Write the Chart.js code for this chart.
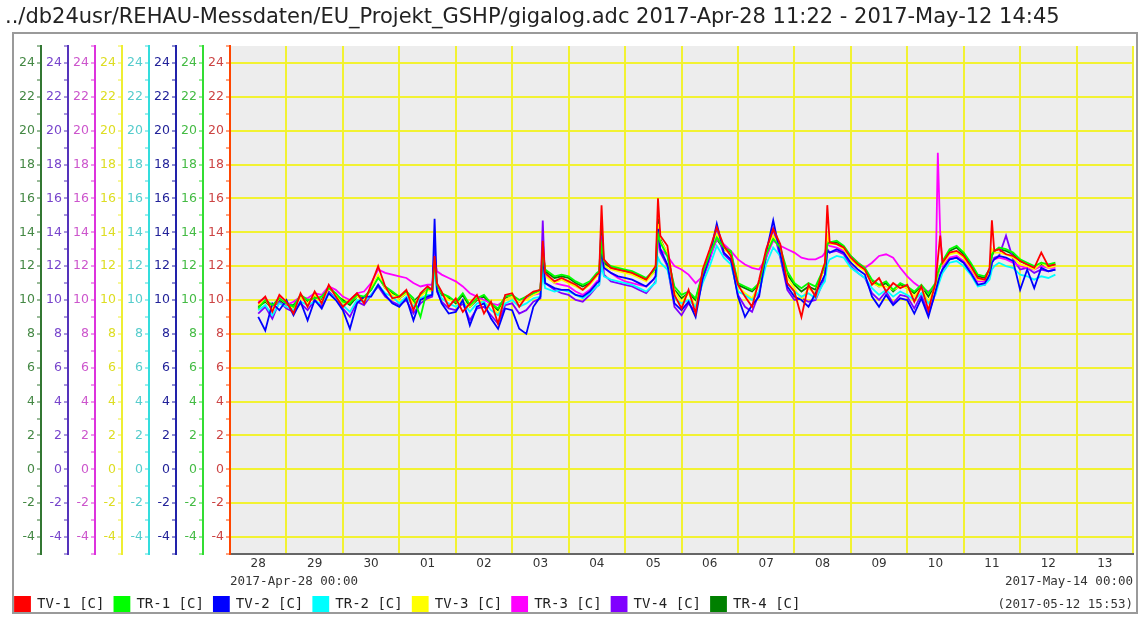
<!DOCTYPE html>
<html><head><meta charset="utf-8">
<script src="https://cdn.jsdelivr.net/npm/chart.js@4.4.1/dist/chart.umd.min.js"></script>
<style>
html,body{margin:0;padding:0;background:#fff;}
#frame{position:absolute;left:12px;top:32px;width:1126px;height:582px;box-sizing:border-box;border:2px solid #9a9a9a;}
#wrap{position:absolute;left:0;top:0;width:1142px;height:617px;}
</style></head><body>
<div id="frame"></div>
<div id="wrap"><canvas id="c"></canvas></div>
<script>
const titleText = '../db24usr/REHAU-Messdaten/EU_Projekt_GSHP/gigalog.adc 2017-Apr-28 11:22 - 2017-May-12 14:45';

// hours since 2017-Apr-28 00:00
const hours = [12,15,18,21,
24,27,30,33,36,39,42,45,
48,51,54,57,60,63,66,69,
72,75,78,81,84,86,87,88,90,93,
96,99,102,105,108,111,114,117,
120,123,126,129,132,133,134,138,141,
144,147,150,153,156,157,158,159,162,165,
168,171,174,177,180,181,182,183,186,189,
192,195,198,201,204,207,210,213,
216,219,222,225,228,231,234,237,
240,243,246,249,252,253,254,255,258,261,
264,267,270,273,276,279,282,285,
288,291,294,297,300,301,302,303,306,309,
312,315,318,321,323,324,325,327,330,333,
336,339,342,345,348,351];

const dayTicks = [12,36,60,84,108,132,156,180,204,228,252,276,300,324,348,372];
const dayLabels = ['28','29','30','01','02','03','04','05','06','07','08','09','10','11','12','13'];
const rangeTicks = [0, 384];
const rangeLabels = ['2017-Apr-28 00:00', ['2017-May-14 00:00', '(2017-05-12 15:53)']];

const seriesNames = ['TV-1 [C]','TR-1 [C]','TV-2 [C]','TR-2 [C]','TV-3 [C]','TR-3 [C]','TV-4 [C]','TR-4 [C]'];
const seriesColors = ['#ff0000','#00ff00','#0000ff','#00ffff','#ffff00','#ff00ff','#8000ff','#008000'];
const axisLabelColors = ['#cc4444','#44bb44','#222299','#55cccc','#dddd22','#cc55cc','#7744cc','#448844'];
const axisLineColors = ['#ff4500','#33dd33','#2222aa','#33dddd','#eeee33','#dd33dd','#5533bb','#337733'];

const tv1 = [9.8,10.2,9.3,10.3,
9.9,9.2,10.4,9.6,10.5,9.8,10.9,10.2,
9.6,10.0,10.4,9.8,10.9,12.0,10.8,10.1,
10.2,10.6,9.4,10.4,10.8,10.6,12.6,11.0,10.5,9.6,
10.1,9.3,9.8,10.3,9.2,9.9,8.6,10.3,
10.4,9.6,10.2,10.5,10.6,13.5,11.6,11.1,11.3,
11.1,10.9,10.6,11.0,11.5,11.6,15.6,12.4,11.9,11.8,
11.7,11.6,11.4,11.2,11.8,12.0,16.0,13.8,13.2,10.3,
9.5,10.6,9.2,11.8,13.0,14.3,13.2,12.6,
10.9,10.2,9.6,11.2,13.0,14.2,13.3,11.0,
10.5,9.0,10.9,10.2,11.8,12.2,15.6,13.4,13.3,13.1,
12.5,12.1,11.8,10.9,11.3,10.5,11.0,10.7,
10.9,9.9,10.8,9.4,11.0,12.4,13.8,12.2,12.8,12.9,
12.6,12.0,11.3,11.2,11.9,14.7,12.9,13.0,12.7,12.6,
12.3,12.1,11.9,12.8,12.0,12.1];

const tr1 = [9.5,10.0,9.7,10.1,
9.8,9.6,10.3,10.0,10.1,10.2,10.7,10.4,
9.9,9.8,10.3,10.2,10.6,11.3,10.8,10.5,
10.2,10.5,10.1,9.0,10.7,10.6,12.3,10.9,10.4,10.2,
9.9,10.4,9.7,10.1,10.3,9.8,9.5,10.2,
10.3,10.0,10.2,10.4,10.6,12.8,11.8,11.4,11.5,
11.4,11.1,10.9,11.1,11.6,11.7,13.2,12.3,12.0,11.9,
11.8,11.7,11.5,11.3,11.7,11.9,13.9,13.4,12.6,10.8,
10.3,10.5,10.1,11.6,12.7,13.7,13.1,12.9,
11.0,10.8,10.6,11.0,12.7,13.6,13.1,11.7,
11.0,10.7,11.0,10.8,11.7,12.0,13.3,13.4,13.5,13.2,
12.6,12.2,11.9,11.2,10.9,11.1,10.6,11.0,
10.8,10.5,10.9,10.4,11.0,11.6,12.0,12.3,13.0,13.2,
12.8,12.2,11.5,11.4,11.8,12.7,12.9,13.1,13.0,12.8,
12.4,12.2,12.0,12.2,12.1,12.2];

const tv2 = [9.0,8.2,9.8,9.4,
10.0,9.1,9.9,8.8,10.0,9.5,10.4,10.0,
9.4,8.3,9.8,10.2,10.2,10.9,10.3,9.8,
9.6,10.1,8.8,10.0,10.2,10.3,14.8,10.6,9.8,9.2,
9.3,10.0,8.5,9.6,9.8,8.9,8.3,9.5,
9.4,8.3,8.0,9.6,10.2,12.8,11.0,10.7,10.6,
10.6,10.3,10.2,10.5,11.0,11.1,13.0,11.9,11.6,11.4,
11.3,11.2,11.0,10.8,11.2,11.4,14.2,13.0,12.1,9.8,
9.4,9.9,9.0,11.3,12.6,14.5,12.8,12.4,
10.2,9.0,9.7,10.2,12.8,14.7,12.7,10.8,
10.2,10.0,9.6,10.4,11.2,11.5,12.9,12.8,13.0,12.8,
12.2,11.8,11.5,10.2,9.6,10.3,9.7,10.1,
10.0,9.2,10.1,9.0,10.5,11.0,11.5,11.8,12.4,12.5,
12.2,11.6,10.9,11.0,11.5,12.2,12.4,12.6,12.5,12.3,
10.6,11.8,10.7,11.9,11.7,11.8];

const tr2 = [9.4,9.7,9.1,9.8,
9.6,9.4,9.9,9.7,9.9,9.8,10.4,10.1,
9.7,9.3,10.0,9.9,10.3,10.9,10.4,10.2,
9.8,10.2,9.6,10.1,10.3,10.3,11.8,10.6,10.1,9.8,
9.6,9.9,9.3,9.8,9.9,9.4,9.1,9.8,
10.0,9.6,9.8,10.1,10.2,11.5,10.7,10.5,10.6,
10.5,10.3,10.1,10.4,10.8,10.9,12.0,11.4,11.2,11.1,
11.0,10.9,10.7,10.5,10.9,11.0,12.5,12.2,11.8,10.1,
9.8,10.0,9.6,11.0,12.0,13.2,12.5,12.1,
10.5,10.3,10.0,10.5,12.1,13.1,12.6,11.0,
10.5,10.2,10.4,10.1,10.9,11.1,12.1,12.4,12.6,12.5,
11.9,11.6,11.3,10.7,10.3,10.6,10.2,10.5,
10.3,10.0,10.4,9.8,10.3,10.8,11.2,11.6,12.2,12.3,
12.0,11.5,10.8,10.9,11.2,11.8,12.0,12.2,12.0,11.9,
11.5,11.4,11.2,11.4,11.3,11.5];

const tv3 = [9.7,10.0,9.5,10.1,
9.8,9.5,10.2,9.8,10.3,9.9,10.7,10.3,
9.8,9.9,10.2,10.0,10.7,11.5,10.7,10.3,
10.1,10.4,9.8,10.2,10.6,10.5,12.0,10.8,10.4,10.0,
9.9,9.9,9.6,10.1,9.8,9.7,9.2,10.0,
10.2,9.9,10.0,10.3,10.5,12.5,11.4,11.0,11.2,
11.0,10.8,10.6,10.9,11.4,11.5,13.0,12.0,11.8,11.7,
11.6,11.5,11.3,11.1,11.6,11.8,14.5,13.5,12.8,10.5,
9.9,10.4,9.6,11.6,12.8,13.9,13.0,12.7,
10.8,10.4,10.1,10.9,12.8,13.8,13.0,11.3,
10.7,10.0,10.7,10.4,11.6,11.9,13.8,13.3,13.3,13.0,
12.4,12.0,11.7,11.0,10.8,10.8,10.6,10.8,
10.7,10.2,10.7,9.9,10.8,11.5,12.0,12.1,12.7,12.8,
12.5,11.9,11.2,11.2,11.6,13.0,12.8,12.8,12.7,12.5,
12.1,12.0,11.8,12.2,11.9,12.0];

const tr3 = [9.9,10.1,9.6,10.2,
9.7,9.9,10.2,10.1,10.4,10.3,10.8,10.6,
10.2,10.0,10.4,10.5,11.0,11.8,11.6,11.5,
11.4,11.3,11.0,10.8,10.9,10.9,12.4,11.7,11.5,11.3,
11.1,10.8,10.4,10.2,10.0,9.8,9.7,10.0,
10.2,10.0,10.1,10.3,10.4,12.0,11.5,11.0,10.9,
10.8,10.5,10.3,10.6,11.1,11.2,12.5,11.9,11.6,11.3,
11.1,11.0,10.9,10.8,11.2,11.4,13.5,13.0,12.6,12.0,
11.8,11.5,11.0,11.4,12.4,13.6,13.3,12.9,
12.4,12.1,11.9,11.8,12.5,13.5,13.2,13.0,
12.8,12.5,12.4,12.4,12.6,12.8,13.3,13.2,13.1,12.9,
12.6,12.2,11.9,12.2,12.6,12.7,12.5,11.9,
11.4,11.0,10.7,10.5,10.8,18.7,14.0,12.0,12.5,12.6,
12.3,11.8,11.1,11.1,11.6,12.3,12.4,12.5,12.4,12.2,
12.0,11.9,11.8,12.0,11.9,11.9];

const tv4 = [9.2,9.6,8.9,9.9,
9.5,9.3,9.8,9.4,10.0,9.6,10.5,10.1,
9.5,9.0,9.9,9.7,10.3,10.8,10.2,9.9,
9.7,10.0,9.2,9.8,10.1,10.2,13.2,10.5,9.9,9.5,
9.4,9.8,8.8,9.5,9.6,9.1,8.6,9.7,
9.8,9.2,9.4,9.9,10.1,14.7,11.0,10.6,10.4,
10.3,10.0,9.9,10.3,10.8,10.9,13.8,11.5,11.1,11.0,
10.9,10.8,10.6,10.4,10.9,11.1,13.8,12.8,12.0,9.6,
9.1,9.8,9.3,11.2,12.4,14.0,12.7,12.3,
10.3,9.6,9.3,10.4,12.5,14.2,12.5,10.6,
10.0,10.1,9.9,10.0,11.0,11.3,13.0,12.8,12.9,12.7,
12.0,11.6,11.3,10.4,10.0,10.5,9.8,10.3,
10.2,9.5,10.3,9.2,10.4,11.0,11.4,11.8,12.4,12.5,
12.2,11.6,10.9,10.9,11.4,12.2,12.5,12.6,13.8,12.4,
11.8,11.9,11.6,11.8,11.7,11.8];

const tr4 = [9.6,9.9,9.5,10.0,
9.7,9.7,10.2,9.9,10.2,10.0,10.8,10.3,
10.0,9.7,10.2,10.1,10.6,11.4,10.7,10.4,
10.1,10.4,9.9,10.3,10.6,10.6,12.2,10.8,10.3,10.1,
9.8,10.3,9.6,10.0,10.2,9.7,9.4,10.1,
10.2,9.9,10.1,10.4,10.6,13.0,11.7,11.3,11.4,
11.3,11.0,10.8,11.0,11.5,11.6,14.5,12.2,11.9,11.8,
11.7,11.6,11.4,11.2,11.6,11.8,14.8,13.6,12.7,10.6,
10.1,10.4,10.0,11.5,12.6,13.6,13.0,12.8,
10.9,10.7,10.5,10.9,12.6,13.7,13.0,11.5,
10.9,10.5,10.8,10.6,11.6,11.9,13.5,13.4,13.4,13.1,
12.5,12.1,11.8,11.1,10.8,11.0,10.5,10.9,
10.7,10.4,10.8,10.2,10.9,11.5,12.0,12.2,12.9,13.1,
12.7,12.1,11.4,11.3,11.7,12.6,12.9,13.0,12.9,12.7,
12.3,12.1,11.9,12.1,12.0,12.1];

const seriesValues = [tv1, tr1, tv2, tr2, tv3, tr3, tv4, tr4];
const gridYellow = 'rgba(242,242,40,0.95)';

const plotBg = {
  id: 'plotBg',
  beforeDraw(chart) {
    const {ctx, chartArea: a} = chart;
    ctx.save();
    ctx.fillStyle = '#ededed';
    ctx.fillRect(a.left, a.top, a.width, a.height);
    ctx.restore();
  }
};

function yAxis(i, width) {
  const withGrid = i === 0;
  return {
    type: 'linear', axis: 'y', position: 'left', min: -5, max: 25,
    afterFit: s => { s.width = width; },
    ticks: {
      stepSize: 1, autoSkip: false, color: axisLabelColors[i], padding: 2,
      font: {family: 'DejaVu Sans', size: 12.5},
      callback: v => (Math.round(v) % 2 === 0 ? String(v) : '')
    },
    grid: {
      drawOnChartArea: withGrid,
      color: c => (withGrid && c.tick && Math.round(c.tick.value) % 2 === 0 && c.tick.value > -5 && c.tick.value < 25 ? gridYellow : 'rgba(0,0,0,0)'),
      lineWidth: 2, tickColor: axisLineColors[i], tickLength: 4, tickWidth: 1
    },
    border: {color: axisLineColors[i], width: 2}
  };
}

const scales = {
  x: {
    type: 'linear', axis: 'x', position: 'bottom', min: 0, max: 384,
    afterBuildTicks: s => { s.ticks = dayTicks.map(v => ({value: v})); },
    afterFit: s => { s.height = 17; },
    ticks: {autoSkip: false, maxRotation: 0, color: '#333', padding: 3,
      font: {family: 'DejaVu Sans', size: 12}, callback: (v, i) => dayLabels[i]},
    grid: {offset: true, color: gridYellow, lineWidth: 2, drawTicks: false},
    border: {color: '#666', width: 2}
  },
  x2: {
    type: 'linear', axis: 'x', position: 'bottom', min: 0, max: 384,
    afterBuildTicks: s => { s.ticks = rangeTicks.map(v => ({value: v})); },
    afterFit: s => { s.height = 16; },
    ticks: {autoSkip: false, maxRotation: 0, align: 'inner', mirror: true, color: '#333', padding: -22.5,
      font: {family: 'DejaVu Sans Mono', size: 12.5, lineHeight: 1.85}, callback: (v, i) => rangeLabels[i]},
    grid: {display: false, drawTicks: false},
    border: {display: false}
  }
};
for (let i = 0; i < 8; i++) scales['y' + i] = yAxis(i, i === 7 ? 36 : 27);

new Chart(document.getElementById('c'), {
  type: 'line',
  data: {
    datasets: seriesValues.map((vals, i) => ({
      label: seriesNames[i],
      data: hours.map((h, k) => ({x: h, y: vals[k]})),
      borderColor: seriesColors[i],
      backgroundColor: seriesColors[i],
      borderWidth: 1.8,
      pointRadius: 0,
      tension: 0,
      xAxisID: 'x',
      yAxisID: 'y' + i
    }))
  },
  options: {
    responsive: true, maintainAspectRatio: false, animation: false,
    layout: {padding: {left: 5, right: 9, top: 0, bottom: 0}},
    plugins: {
      title: {display: true, text: titleText, align: 'start', color: '#222',
        font: {family: 'DejaVu Sans', size: 21, weight: 'normal'}, padding: {top: 5.4, bottom: 15.4}},
      legend: {position: 'bottom', align: 'start', maxHeight: 30,
        labels: {boxWidth: 15, boxHeight: 14, padding: 10, color: '#222',
          font: {family: 'DejaVu Sans Mono', size: 14}}},
      tooltip: {enabled: false}
    },
    scales: scales
  },
  plugins: [plotBg]
});
</script>
</body></html>
